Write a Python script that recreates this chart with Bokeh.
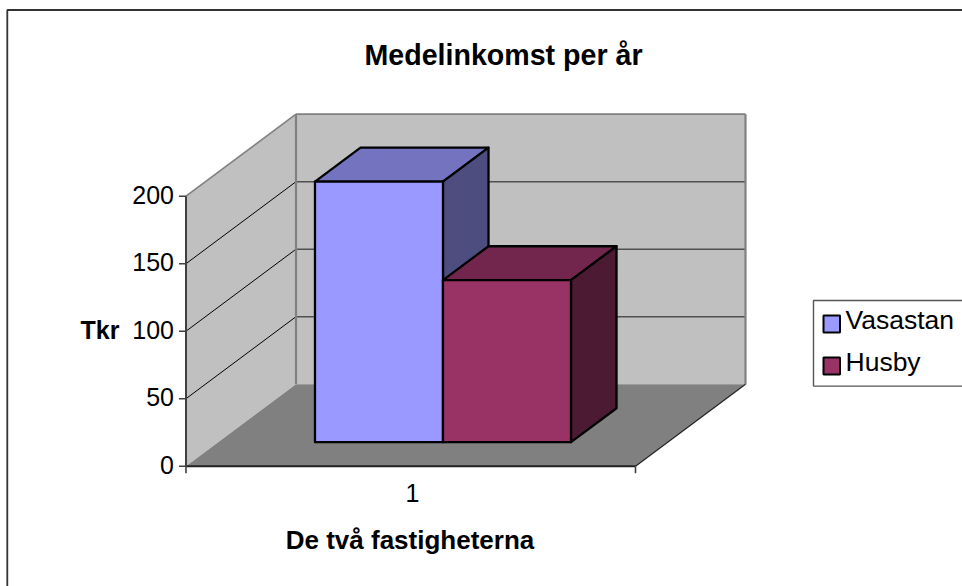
from bokeh.plotting import figure
from bokeh.models import Range1d
from bokeh.core.properties import value
from bokeh.embed import file_html
from bokeh.resources import INLINE

# ---- data
title_text = "Medelinkomst per år"
x_title = "De två fastigheterna"
y_title = "Tkr"
categories = ["1"]
series_names = ["Vasastan", "Husby"]
series_values = [193, 120]
y_ticks = [0, 50, 100, 150, 200]
front_colors = ["#9999FF", "#993366"]
top_colors = ["#7373BF", "#73264D"]
side_colors = ["#4D4D80", "#4D1A33"]

# ---- oblique projection of the chart box onto the page
W, H = 962, 586
X0, Y0 = 185.5, 465.7      # front-left corner at value 0
BOX_W = 449.5              # box width
DX, DY = 110, 82           # full depth offset
SY = 270 / 200             # px per unit
BAR_W = 128 / BOX_W        # bar width as box fraction
BAR_X0 = (1 - 2 * BAR_W) / 2
D0, D1 = 0.293, 0.707      # bar depth extent


def proj(fx, depth, val):
    return X0 + fx * BOX_W + depth * DX, Y0 - val * SY - depth * DY


def poly(p, pts, **kw):
    xs, ys = zip(*[proj(*q) for q in pts])
    p.patch(list(xs), list(ys), **kw)


def line(p, a, b, **kw):
    pa, pb = proj(*a), proj(*b)
    p.line([pa[0], pb[0]], [pa[1], pb[1]], **kw)


p = figure(width=W, height=H, x_range=Range1d(0, W), y_range=Range1d(H, 0),
           output_backend="svg", toolbar_location=None, min_border=0,
           outline_line_color=None, background_fill_color="white")
p.axis.visible = False
p.grid.visible = False

FONT = value("Liberation Sans")


def text(x, y, s, size, bold=False, align="center"):
    p.text([x], [y], [s], text_font=FONT, text_font_size=f"{size}px",
           text_font_style="bold" if bold else "normal", text_align=align,
           text_baseline="middle", text_color="black")


# chart-area border (left and top only reach the picture)
p.line([6.8, 6.8, W], [H, 9.5, 9.5], line_color="#333333", line_width=1.8)

vmax = y_ticks[-1]
WALL, FLOOR, EDGE = "#C0C0C0", "#808080", "#808080"

poly(p, [(0, 0, 0), (0, 1, 0), (0, 1, vmax), (0, 0, vmax)], fill_color=WALL, line_color=None)
poly(p, [(0, 1, 0), (1, 1, 0), (1, 1, vmax), (0, 1, vmax)], fill_color=WALL, line_color=None)
poly(p, [(0, 0, 0), (1, 0, 0), (1, 1, 0), (0, 1, 0)], fill_color=FLOOR, line_color=None)

for t in y_ticks[1:-1] + [vmax]:
    if t != vmax:
        line(p, (0, 1, t), (1, 1, t), line_color="#505050", line_width=1.6)
    line(p, (0, 0, t), (0, 1, t),
         line_color="black" if t != vmax else EDGE, line_width=1 if t != vmax else 1.6)
line(p, (0, 1, vmax), (1, 1, vmax), line_color=EDGE, line_width=1.8)
line(p, (0, 1, 0), (0, 1, vmax), line_color=EDGE, line_width=2.2)
line(p, (1, 1, 0), (1, 1, vmax), line_color=EDGE, line_width=2.2)
line(p, (1, 0, 0), (1, 1, 0), line_color="#222222", line_width=1.2)

# axes
line(p, (0, 0, 0), (1, 0, 0), line_color="#222222", line_width=2)
line(p, (0, 0, 0), (0, 0, vmax), line_color="#404040", line_width=2)
for t in y_ticks:
    x, y = proj(0, 0, t)
    p.line([x - 7, x], [y, y], line_color="#404040", line_width=1.6)
    text(x - 12, y - 1.5, str(t), 25, align="right")
for fx in (0, 1):
    x, y = proj(fx, 0, 0)
    p.line([x, x], [y, y + 7], line_color="#404040", line_width=1.6)

# bars
for i, v in enumerate(series_values):
    a, b = BAR_X0 + i * BAR_W, BAR_X0 + (i + 1) * BAR_W
    kw = dict(line_color="black", line_width=2.3, line_join="round")
    poly(p, [(a, D0, v), (b, D0, v), (b, D1, v), (a, D1, v)], fill_color=top_colors[i], **kw)
    poly(p, [(b, D0, 0), (b, D1, 0), (b, D1, v), (b, D0, v)], fill_color=side_colors[i], **kw)
    poly(p, [(a, D0, 0), (b, D0, 0), (b, D0, v), (a, D0, v)], fill_color=front_colors[i], **kw)

# texts
text(503, 54, title_text, 28.6, bold=True)
text(412, 492, categories[0], 25)
text(409.5, 539, x_title, 26, bold=True)
text(99.5, 329, y_title, 25, bold=True)

# legend
LX0, LY0, LY1 = 813, 300, 385.6
p.line([W, LX0, LX0, W], [LY0, LY0, LY1, LY1], line_color="#555555", line_width=1.4)
for i, name in enumerate(series_names):
    yc = 323.5 + i * 42
    p.quad(left=[823], right=[839.5], top=[yc - 8.5], bottom=[yc + 8.5],
           fill_color=front_colors[i], line_color="black", line_width=2)
    text(845, yc - 4.5, name, 26.5, align="left")

open("out.html", "w").write(file_html(p, INLINE))
